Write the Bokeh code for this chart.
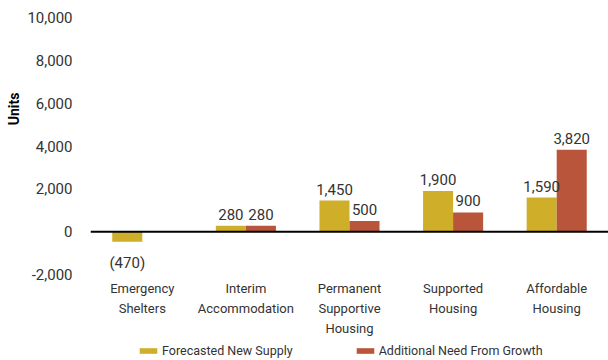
from bokeh.plotting import figure
from bokeh.models import (ColumnDataSource, FixedTicker, NumeralTickFormatter, Span,
                          LabelSet, Legend, LegendItem, Title, Range1d, FactorRange)
from bokeh.core.properties import value
from bokeh.layouts import column
from bokeh.transform import dodge
from bokeh.embed import file_html
from bokeh.resources import INLINE

categories = ["Emergency\nShelters", "Interim\nAccommodation", "Permanent\nSupportive\nHousing",
              "Supported\nHousing", "Affordable\nHousing"]
series_names = ["Forecasted New Supply", "Additional Need From Growth"]
forecasted_supply = [-470, 280, 1450, 1900, 1590]
additional_need = [0, 280, 500, 900, 3820]
y_ticks = [-2000, 0, 2000, 4000, 6000, 8000, 10000]

YELLOW = "#CFAE2A"
RED = "#B9553A"
FONT = "Roboto"
TXT = "#333333"


def fmt(v):
    return "({:,})".format(abs(v)) if v < 0 else "{:,}".format(v)


src = ColumnDataSource(dict(cat=categories, supply=forecasted_supply, need=additional_need))

p = figure(x_range=FactorRange(*categories), y_range=Range1d(-2000, 10000),
           width=608, height=339, output_backend="svg", toolbar_location=None,
           min_border_left=89, min_border_right=0, min_border_top=17, min_border_bottom=60)
p.outline_line_color = None
p.grid.grid_line_color = None
p.background_fill_color = None

w = 0.29
r1 = p.vbar(x=dodge("cat", -w / 2, range=p.x_range), top="supply", width=w, source=src,
            fill_color=YELLOW, line_color=None)
r2 = p.vbar(x=dodge("cat", w / 2, range=p.x_range), top="need", width=w, source=src,
            fill_color=RED, line_color=None)

p.add_layout(Span(location=0, dimension="width", line_color="black", line_width=2))

# data labels
pos_s = dict(cat=[], y=[], t=[])
neg_s = dict(cat=[], y=[], t=[])
pos_n = dict(cat=[], y=[], t=[])
for c, v in zip(categories, forecasted_supply):
    d = pos_s if v >= 0 else neg_s
    d["cat"].append(c); d["y"].append(v); d["t"].append(fmt(v))
for c, v in zip(categories, additional_need):
    if v != 0:
        pos_n["cat"].append(c); pos_n["y"].append(v); pos_n["t"].append(fmt(v))

lab_kw = dict(text_font=value(FONT), text_font_size=value("15px"), text_color=TXT,
              text_align="center")
p.add_layout(LabelSet(x=dodge("cat", -w / 2, range=p.x_range), y="y", text="t",
                      source=ColumnDataSource(pos_s), text_baseline="bottom", y_offset=6, **lab_kw))
p.add_layout(LabelSet(x=dodge("cat", -w / 2, range=p.x_range), y="y", text="t",
                      source=ColumnDataSource(neg_s), text_baseline="top", y_offset=-12, **lab_kw))
p.add_layout(LabelSet(x=dodge("cat", w / 2, range=p.x_range), y="y", text="t",
                      source=ColumnDataSource(pos_n), text_baseline="bottom", y_offset=6, **lab_kw))

# axes
p.yaxis.ticker = FixedTicker(ticks=y_ticks)
p.yaxis.formatter = NumeralTickFormatter(format="0,0")
p.yaxis.axis_line_color = None
p.yaxis.major_tick_line_color = None
p.yaxis.minor_tick_line_color = None
p.yaxis.major_label_standoff = 12
p.yaxis.major_label_text_font = FONT
p.yaxis.major_label_text_font_size = "15px"
p.yaxis.major_label_text_color = TXT

p.xaxis.axis_line_color = None
p.xaxis.major_tick_line_color = None
p.xaxis.major_label_standoff = 0
p.xaxis.major_label_text_font = FONT
p.xaxis.major_label_text_font_size = "13px"
p.xaxis.major_label_text_color = TXT
p.xaxis.major_label_text_line_height = 1.35

p.add_layout(Title(text="Units", align="right", offset=75, standoff=6, text_font=FONT,
                   text_font_size="14px", text_font_style="bold", text_color="#000000"), "left")

# legend strip
lg = figure(width=608, height=21, x_range=Range1d(0, 1), y_range=Range1d(0, 1),
            output_backend="svg", toolbar_location=None,
            x_axis_location=None, y_axis_location=None,
            min_border_left=0, min_border_right=0, min_border_top=0, min_border_bottom=0)
lg.grid.grid_line_color = None
lg.outline_line_color = None
l1 = lg.vbar(x=[5], top=[0], width=0.1, fill_color=YELLOW, line_color=None)
l2 = lg.vbar(x=[5], top=[0], width=0.1, fill_color=RED, line_color=None)
legend = Legend(items=[LegendItem(label=series_names[0], renderers=[l1]),
                       LegendItem(label=series_names[1], renderers=[l2])],
                orientation="horizontal", location=(47, 0), glyph_width=22, glyph_height=7,
                label_height=20, label_standoff=3, spacing=61, padding=0, margin=0,
                label_text_font=FONT, label_text_font_size="12.5px", label_text_color=TXT,
                background_fill_alpha=0, border_line_color=None)
lg.add_layout(legend, "center")

open("out.html", "w").write(file_html(column(p, lg), INLINE))
